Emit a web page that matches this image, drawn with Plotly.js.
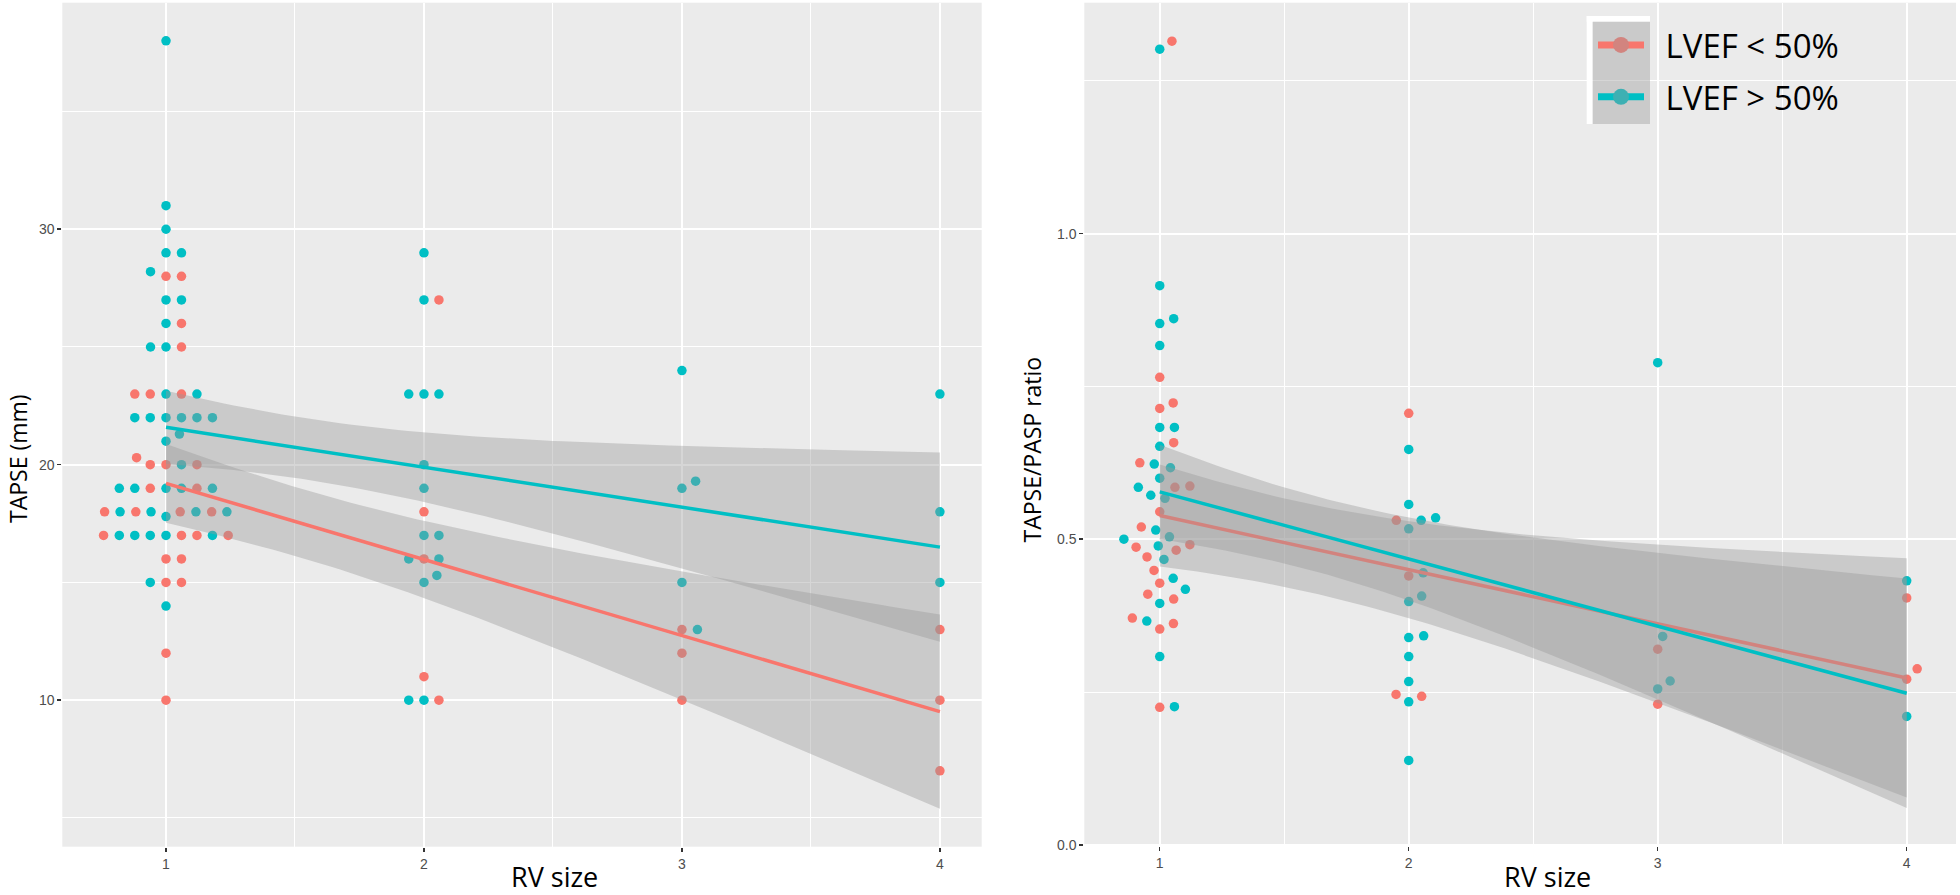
<!DOCTYPE html>
<html>
<head>
<meta charset="utf-8">
<script src="https://cdn.plot.ly/plotly-3.0.1.min.js"></script>
<style>
  html, body { margin: 0; padding: 0; background: #ffffff; }
  #chart { width: 1960px; height: 895px; }
</style>
</head>
<body>
<div id="chart"></div>
<script>
// ---------------- data ----------------
const groupNames = ['LVEF < 50%', 'LVEF > 50%'];
const groupColors = ['#F8766D', '#00BFC4'];
const xTickVals = [1, 2, 3, 4];
const xTickLabels = ['1', '2', '3', '4'];
const xTitle = 'RV size';
const yTitleLeft = 'TAPSE (mm)';
const yTitleRight = 'TAPSE/PASP ratio';

// Left panel: TAPSE (mm) by RV size (x as drawn, spread sideways around each RV size)
const tapseRedX = [1.0, 1.06, 1.06, 1.06, 0.879, 0.939, 1.06, 0.886, 0.939, 1.0, 1.12, 0.939, 1.12,
  0.762, 0.883, 1.055, 1.177, 0.758, 1.06, 1.12, 1.241, 1.0, 1.06, 1.0, 1.06, 1.0, 1.0,
  2.058, 2.0, 2.0, 2.0, 2.058,
  3, 3, 3,
  4, 4, 4];
const tapseRedY = [28, 28, 26, 25, 23, 23, 23, 20.3, 20, 20, 20, 19, 19,
  18, 18, 18, 18, 17, 17, 17, 17, 16, 16, 15, 15, 12, 10,
  27, 18, 16, 11, 10,
  13, 12, 10,
  13, 10, 7];

const tapseCyanX = [1, 1, 1, 1, 1.06, 0.94, 1, 1.06, 1, 0.94, 1, 1, 1.12,
  0.879, 0.939, 1, 1.06, 1.12, 1.18,
  1.052, 1, 1.06,
  0.819, 0.879, 1, 1.06, 1.18,
  0.822, 0.942, 1.116, 1.236,
  1,
  0.819, 0.879, 0.939, 1, 1.18,
  0.939, 1,
  2, 2, 1.941, 2, 2.058, 2, 2, 2, 2.058, 1.941, 2.058, 2.05, 2, 1.941, 2,
  3, 3, 3.053, 3, 3.06,
  4, 4, 4];
const tapseCyanY = [38, 31, 30, 29, 29, 28.2, 27, 27, 26, 25, 25, 23, 23,
  22, 22, 22, 22, 22, 22,
  21.3, 21, 20,
  19, 19, 19, 19, 19,
  18, 18, 18, 18,
  17.8,
  17, 17, 17, 17, 17,
  15, 14,
  29, 27, 23, 23, 23, 20, 19, 17, 17, 16, 16, 15.3, 15, 10, 10,
  24, 19, 19.3, 15, 13,
  23, 18, 15];

// Right panel: TAPSE/PASP ratio by RV size
const ratioRedX = [1.049, 1, 1, 1.054, 1.056, 0.92, 1.061, 1.121, 1, 0.926, 0.905, 1.066, 1.121,
  0.949, 0.977, 1, 0.952, 1.056, 0.89, 1.055, 1, 1,
  2, 1.95, 2, 1.949, 2.052,
  3, 3,
  4, 4.042, 4];
const ratioRedY = [1.315, 0.765, 0.714, 0.723, 0.658, 0.625, 0.585, 0.587, 0.545, 0.520, 0.487, 0.482, 0.491,
  0.471, 0.449, 0.428, 0.410, 0.402, 0.371, 0.362, 0.353, 0.225,
  0.706, 0.531, 0.440, 0.246, 0.243,
  0.320, 0.230,
  0.404, 0.288, 0.271];

const ratioCyanX = [1, 1, 1, 1.056, 1, 1, 1.059, 1, 0.978, 1.043, 1, 0.914, 0.964, 1.021, 0.984,
  0.856, 1.039, 0.994, 1.017, 1.054, 1.103, 1, 0.948, 1, 1.059,
  2, 2, 2.05, 2.108, 2, 2.058, 2.052, 2, 2, 2.06, 2, 2, 2, 2,
  3, 3.02, 3.05, 3,
  4, 4];
const ratioCyanY = [1.302, 0.915, 0.853, 0.861, 0.817, 0.683, 0.683, 0.652, 0.623, 0.617, 0.600, 0.585, 0.572, 0.567, 0.515,
  0.500, 0.504, 0.489, 0.467, 0.436, 0.418, 0.395, 0.366, 0.308, 0.226,
  0.647, 0.557, 0.531, 0.535, 0.517, 0.445, 0.407, 0.398, 0.339, 0.342, 0.308, 0.267, 0.234, 0.138,
  0.789, 0.341, 0.268, 0.255,
  0.432, 0.210];

// ---------------- linear fit with 95% confidence band (as geom_smooth(method = "lm")) ----------------
function tQuantile975(df) {
  const z = 1.959964;
  const g1 = (Math.pow(z, 3) + z) / 4;
  const g2 = (5 * Math.pow(z, 5) + 16 * Math.pow(z, 3) + 3 * z) / 96;
  return z + g1 / df + g2 / (df * df);
}
function lmBand(xs, ys) {
  const X = xs.map(v => Math.round(v));
  const n = X.length;
  const mx = X.reduce((a, b) => a + b, 0) / n;
  const my = ys.reduce((a, b) => a + b, 0) / n;
  let sxx = 0, sxy = 0;
  for (let i = 0; i < n; i++) { sxx += (X[i] - mx) ** 2; sxy += (X[i] - mx) * (ys[i] - my); }
  const b = sxy / sxx, a = my - b * mx;
  let sse = 0;
  for (let i = 0; i < n; i++) sse += (ys[i] - a - b * X[i]) ** 2;
  const s = Math.sqrt(sse / (n - 2));
  const t = tQuantile975(n - 2);
  const xmin = Math.min(...X), xmax = Math.max(...X);
  const gx = [], fit = [], lo = [], hi = [];
  const steps = 80;
  for (let k = 0; k <= steps; k++) {
    const x = xmin + (xmax - xmin) * k / steps;
    const f = a + b * x;
    const se = s * Math.sqrt(1 / n + (x - mx) ** 2 / sxx);
    gx.push(x); fit.push(f); lo.push(f - t * se); hi.push(f + t * se);
  }
  return { gx, fit, lo, hi };
}

const bandFill = 'rgba(153,153,153,0.4)';
function panelTraces(rx, ry, cx, cy, xa, ya) {
  const out = [];
  out.push({ type: 'scatter', mode: 'markers', x: rx, y: ry, xaxis: xa, yaxis: ya, showlegend: false,
    marker: { color: groupColors[0], size: 9.5 }, hoverinfo: 'x+y' });
  out.push({ type: 'scatter', mode: 'markers', x: cx, y: cy, xaxis: xa, yaxis: ya, showlegend: false,
    marker: { color: groupColors[1], size: 9.5 }, hoverinfo: 'x+y' });
  [[rx, ry, 0], [cx, cy, 1]].forEach(([xs, ys, g]) => {
    const m = lmBand(xs, ys);
    out.push({ type: 'scatter', mode: 'lines', xaxis: xa, yaxis: ya, showlegend: false, hoverinfo: 'skip',
      x: m.gx.concat(m.gx.slice().reverse()), y: m.hi.concat(m.lo.slice().reverse()),
      fill: 'toself', fillcolor: bandFill, line: { width: 0, color: 'rgba(0,0,0,0)' } });
    out.push({ type: 'scatter', mode: 'lines', xaxis: xa, yaxis: ya, showlegend: false,
      x: m.gx, y: m.fit, line: { color: groupColors[g], width: 3.5 }, hoverinfo: 'skip' });
  });
  return out;
}

const traces = [].concat(
  panelTraces(tapseRedX, tapseRedY, tapseCyanX, tapseCyanY, 'x', 'y'),
  panelTraces(ratioRedX, ratioRedY, ratioCyanX, ratioCyanY, 'x2', 'y2')
);
// legend entries
const legendMarker = ['#D2847F', '#3DB0B3'];
[0, 1].forEach(g => {
  traces.push({ type: 'scatter', mode: 'lines+markers', x: [null], y: [null], xaxis: 'x2', yaxis: 'y2',
    name: '\u2002' + groupNames[g], legendgroup: 'g' + g, showlegend: true,
    line: { color: groupColors[g], width: 7 }, marker: { color: legendMarker[g], size: 16 } });
});

// ---------------- layout ----------------
const W = 1960, H = 895;
const px = v => v / W;
const py = v => 1 - v / H;
const tickFont = { family: 'Liberation Sans, Arial, sans-serif', size: 14, color: '#4D4D4D' };
const baseX = {
  tickmode: 'array', tickvals: xTickVals, ticktext: xTickLabels,
  ticks: 'outside', ticklen: 4, tickwidth: 1.5, tickcolor: '#333333', tickfont: tickFont,
  showgrid: true, gridcolor: '#FFFFFF', gridwidth: 2, zeroline: false, showline: false,
  minor: { tickmode: 'linear', tick0: 0, dtick: 0.5, showgrid: true, gridcolor: '#FFFFFF', gridwidth: 1, ticks: '' },
  fixedrange: true
};
const baseY = {
  ticks: 'outside', ticklen: 4, tickwidth: 1.5, tickcolor: '#333333', tickfont: tickFont,
  showgrid: true, gridcolor: '#FFFFFF', gridwidth: 2, zeroline: false, showline: false,
  fixedrange: true
};

const layout = {
  width: W, height: H,
  margin: { l: 0, r: 0, t: 0, b: 0 },
  paper_bgcolor: '#FFFFFF', plot_bgcolor: '#EBEBEB',
  showlegend: true,
  xaxis: Object.assign({}, baseX, { domain: [px(62.3), px(981.7)], range: [0.598, 4.162], anchor: 'y' }),
  yaxis: Object.assign({}, baseY, { domain: [1 - 846.7 / H, 1 - 2.7 / H], range: [3.78, 39.62],
    tickmode: 'linear', tick0: 0, dtick: 10,
    minor: { tickmode: 'linear', tick0: 0, dtick: 5, showgrid: true, gridcolor: '#FFFFFF', gridwidth: 1, ticks: '' },
    anchor: 'x' }),
  xaxis2: Object.assign({}, baseX, { domain: [px(1084.3), px(1956)], range: [0.697, 4.198], anchor: 'y2' }),
  yaxis2: Object.assign({}, baseY, { domain: [1 - 846 / H, 1 - 2.7 / H], range: [-0.002, 1.378],
    tickmode: 'linear', tick0: 0, dtick: 0.5, tickformat: '.1f',
    minor: { tickmode: 'linear', tick0: 0, dtick: 0.25, showgrid: true, gridcolor: '#FFFFFF', gridwidth: 1, ticks: '' },
    anchor: 'x2' }),
  legend: {
    x: px(1593), y: py(17), xanchor: 'left', yanchor: 'top',
    bgcolor: 'rgba(0,0,0,0)', borderwidth: 0,
    font: { family: 'Open Sans, sans-serif', size: 33, color: '#000000' },
    itemwidth: 46, tracegroupgap: 6, itemclick: false, itemdoubleclick: false
  },
  shapes: [
    { type: 'rect', xref: 'paper', yref: 'paper', layer: 'above', x0: px(1586.7), x1: px(1592.7), y0: py(124), y1: py(16),
      fillcolor: '#FFFFFF', line: { width: 0 } },
    { type: 'rect', xref: 'paper', yref: 'paper', layer: 'above', x0: px(1586.7), x1: px(1650), y0: py(21.7), y1: py(16),
      fillcolor: '#FFFFFF', line: { width: 0 } },
    { type: 'rect', xref: 'paper', yref: 'paper', layer: 'above', x0: px(1592.7), x1: px(1650), y0: py(124), y1: py(21.7),
      fillcolor: bandFill, line: { width: 0 } }
  ],
  annotations: [
    { text: xTitle, xref: 'paper', yref: 'paper', x: px(554), y: py(876.5), xanchor: 'center', yanchor: 'middle',
      showarrow: false, font: { family: 'Open Sans, sans-serif', size: 27, color: '#000000' } },
    { text: xTitle, xref: 'paper', yref: 'paper', x: px(1547.5), y: py(876.5), xanchor: 'center', yanchor: 'middle',
      showarrow: false, font: { family: 'Open Sans, sans-serif', size: 27, color: '#000000' } },
    { text: yTitleLeft, xref: 'paper', yref: 'paper', x: 0, y: py(459), xanchor: 'left', yanchor: 'middle',
      textangle: -90, showarrow: false, font: { family: 'Open Sans, sans-serif', size: 23, color: '#000000' } },
    { text: yTitleRight, xref: 'paper', yref: 'paper', x: px(1031.5), y: py(450), xanchor: 'center', yanchor: 'middle',
      textangle: -90, showarrow: false, font: { family: 'Open Sans, sans-serif', size: 23, color: '#000000' } }
  ]
};

Plotly.newPlot('chart', traces, layout, { displayModeBar: false, staticPlot: true });
</script>
</body>
</html>
